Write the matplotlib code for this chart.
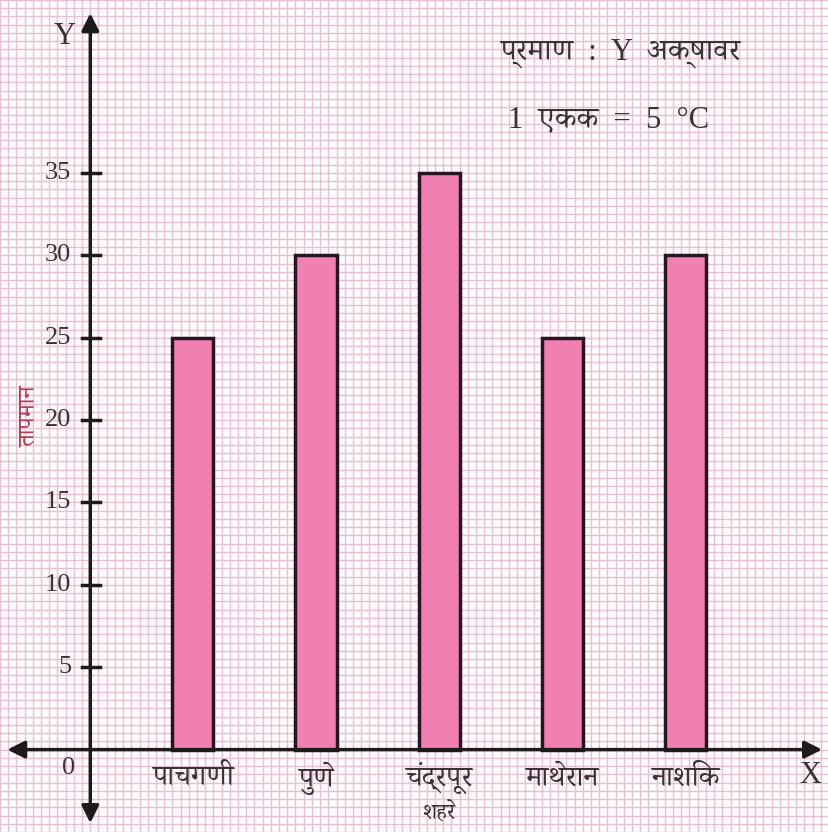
import matplotlib
matplotlib.use('Agg')
import matplotlib.pyplot as plt
from matplotlib import font_manager
import numpy as np

# Data
CITIES = ['पाचगणी', 'पुणे', 'चंद्रपूर', 'माथेरान', 'नाशिक']
TEMPS = [25, 30, 35, 25, 30]
Y_TICKS = [5, 10, 15, 20, 25, 30, 35]

# Styling
BAR_FILL = '#f080b2'
BAR_EDGE = '#2b1422'
GRID_COLOR = '#e3c0d5'
BG_COLOR = '#fffbfd'
TEXT_COLOR = '#3a3236'


def find_devanagari_font():
    """Look for an installed font that has Devanagari glyphs"""
    try:
        from fontTools.ttLib import TTFont
    except ImportError:
        return None
    found = []
    for f in font_manager.fontManager.ttflist:
        try:
            tt = TTFont(f.fname, fontNumber=0, lazy=True)
            cmap = tt.getBestCmap()
            if cmap and 0x0915 in cmap and 0x092A in cmap:
                found.append(f.name)
        except Exception:
            continue
    if not found:
        return None
    for pref in ['Noto Serif Devanagari', 'Noto Sans Devanagari', 'Lohit Devanagari', 'Mangal']:
        if pref in found:
            return pref
    return found[0]


deva = find_devanagari_font()
FAMILY = ['Liberation Serif'] + ([deva] if deva else []) + ['DejaVu Sans']

# 1 grid square horizontally = 1 unit, vertically = 0.5 degree
PX_X = 8.3
PX_Y = 16.6
W, H = 829, 832
OX, OY = 88, 752

fig = plt.figure(figsize=(W / 100, H / 100), dpi=100)
fig.patch.set_facecolor(BG_COLOR)
ax = fig.add_axes([0, 0, 1, 1])
ax.set_facecolor(BG_COLOR)
ax.set_xlim(-OX / PX_X, (W - OX) / PX_X)
ax.set_ylim(-(H - OY) / PX_Y, OY / PX_Y)

# graph paper grid
ax.set_xticks(np.arange(-11, 91, 1))
ax.set_yticks(np.arange(-5, 46, 0.5))
ax.grid(True, color=GRID_COLOR, linewidth=1.0)
ax.tick_params(length=0, labelbottom=False, labelleft=False)
for s in ax.spines.values():
    s.set_visible(False)
ax.set_axisbelow(True)

# bars
lefts = [10 + 15 * i for i in range(len(CITIES))]
centers = [l + 2.5 for l in lefts]
ax.bar(centers, TEMPS, width=5, color=BAR_FILL, edgecolor=BAR_EDGE,
       linewidth=2.5, zorder=3)

# axes with arrows
arrow = dict(arrowstyle='-|>', color='#1e1a1c', lw=2.5,
             mutation_scale=26, shrinkA=0, shrinkB=0)
ax.annotate('', xy=(0, (OY - 10) / PX_Y), xytext=(0, 0), arrowprops=arrow, zorder=5)
ax.annotate('', xy=(0, -(826 - OY) / PX_Y), xytext=(0, 0), arrowprops=arrow, zorder=5)
ax.annotate('', xy=((828 - OX) / PX_X, 0), xytext=(0, 0), arrowprops=arrow, zorder=5)
ax.annotate('', xy=((4 - OX) / PX_X, 0), xytext=(0, 0), arrowprops=arrow, zorder=5)

# tick marks and labels on Y axis
for t in Y_TICKS:
    ax.plot([-1.0, 1.2], [t, t], color='#1e1a1c', lw=2.5, zorder=5)
    ax.text(-2.3, t, str(t), ha='right', va='center', fontsize=19,
            family=FAMILY, color=TEXT_COLOR, zorder=6)

ax.text(-1.9, -1.1, '0', ha='right', va='center', fontsize=19,
        family=FAMILY, color=TEXT_COLOR)
ax.text((62 - OX) / PX_X, (OY - 33) / PX_Y, 'Y', ha='center', va='center',
        fontsize=22, family=FAMILY, color=TEXT_COLOR)
ax.text((816 - OX) / PX_X, -(778 - OY) / PX_Y, 'X', ha='center', va='center',
        fontsize=22, family=FAMILY, color=TEXT_COLOR)

# category labels
for c, name in zip(centers, CITIES):
    ax.text(c, -(781 - OY) / PX_Y, name, ha='center', va='center',
            fontsize=21, family=FAMILY, color=TEXT_COLOR)
ax.text(centers[2], -(817 - OY) / PX_Y, 'शहरे', ha='center', va='center',
        fontsize=16, family=FAMILY, color=TEXT_COLOR)

# y axis title
ax.text((27 - OX) / PX_X, (OY - 416) / PX_Y, 'तापमान', ha='center', va='center',
        rotation=90, fontsize=17, family=FAMILY, color='#b04050')

# scale note
ax.text((503 - OX) / PX_X, (OY - 50) / PX_Y, 'प्रमाण  :  Y  अक्षावर', ha='left',
        va='center', fontsize=22, family=FAMILY, color=TEXT_COLOR)
ax.text((510 - OX) / PX_X, (OY - 117) / PX_Y, '1  एकक  =  5  °C', ha='left',
        va='center', fontsize=22, family=FAMILY, color=TEXT_COLOR)

fig.savefig('out.png', dpi=100, facecolor=BG_COLOR)
